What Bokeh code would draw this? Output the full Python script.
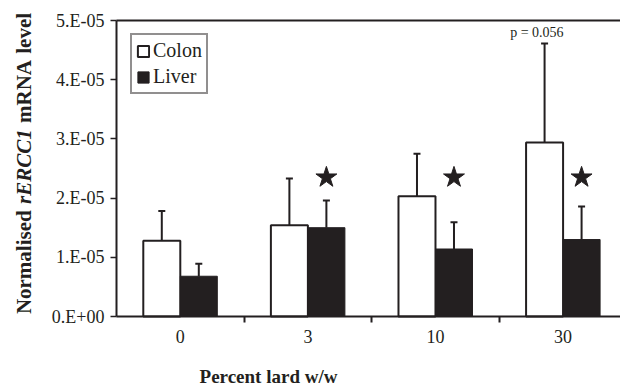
import numpy as np
from bokeh.plotting import figure
from bokeh.models import (ColumnDataSource, FixedTicker, Whisker, TeeHead, Range1d)
from bokeh.core.properties import value
from bokeh.embed import file_html
from bokeh.resources import INLINE

# ---- data ----
categories = ["0", "3", "10", "30"]
colon_mean = [1.28e-5, 1.54e-5, 2.03e-5, 2.94e-5]
colon_err = [0.50e-5, 0.79e-5, 0.72e-5, 1.67e-5]
liver_mean = [0.68e-5, 1.50e-5, 1.14e-5, 1.30e-5]
liver_err = [0.21e-5, 0.46e-5, 0.45e-5, 0.56e-5]
significant = [False, True, True, True]
y_ticks = [0, 1e-5, 2e-5, 3e-5, 4e-5, 5e-5]
y_tick_labels = ["0.E+00", "1.E-05", "2.E-05", "3.E-05", "4.E-05", "5.E-05"]
p_note = "p = 0.056"
x_title = "Percent lard w/w"
y_title_words = ["Normalised", "rERCC1", "mRNA", "level"]
y_title_styles = ["bold", "bold italic", "bold", "bold"]

# ---- style / geometry ----
INK = "#231f20"
FONT = "Liberation Serif"
BAR_W = 0.29
OFF = BAR_W / 2
STAR_LEVEL = 2.35e-5
W, H = 620, 388
FRAME_L, FRAME_T, FRAME_B = 116, 20, 316   # pixel box of the value axes
XLO, XHI = -0.5, 3.45
YLO, YHI = 0.0, 5e-5
KX = (W - FRAME_L) / (XHI - XLO)
KY = (FRAME_B - FRAME_T) / (YHI - YLO)
X0 = XLO - FRAME_L / KX
Y1 = YHI + FRAME_T / KY
Y0 = YLO - (H - FRAME_B) / KY
# approximate advance widths (em) of the title words in Times/Liberation Serif bold
WORD_EM = [4.944, 3.557, 2.999, 1.944]
GAP_EM = 0.30


def px_x(px):
    return X0 + px / KX


def px_y(py):
    return Y1 - py / KY


idx = np.arange(len(categories))

p = figure(width=W, height=H, frame_width=W, frame_height=H, min_border=0,
           output_backend="svg", toolbar_location=None,
           x_range=Range1d(X0, XHI), y_range=Range1d(Y0, Y1))
p.outline_line_color = None
p.xgrid.visible = False
p.ygrid.visible = False
p.background_fill_color = "white"
p.border_fill_color = "white"

colon_src = ColumnDataSource(dict(x=idx - OFF, top=colon_mean,
                                  hi=np.array(colon_mean) + np.array(colon_err)))
liver_src = ColumnDataSource(dict(x=idx + OFF, top=liver_mean,
                                  hi=np.array(liver_mean) + np.array(liver_err)))

p.vbar(x="x", top="top", bottom=0, width=BAR_W, source=colon_src, fill_color="white",
       line_color=INK, line_width=2, legend_label="Colon")
p.vbar(x="x", top="top", bottom=0, width=BAR_W, source=liver_src, fill_color=INK,
       line_color=INK, line_width=1, legend_label="Liver")

for src in (colon_src, liver_src):
    p.add_layout(Whisker(source=src, base="x", lower="top", upper="hi",
                         line_color=INK, line_width=2,
                         upper_head=TeeHead(size=7, line_color=INK, line_width=2),
                         lower_head=None))

# significance stars
star_x = [i + OFF for i, s in zip(idx, significant) if s]
p.scatter(x=star_x, y=[STAR_LEVEL] * len(star_x), marker="star", size=22,
          fill_color=INK, line_color=INK)

# p-value note above the last colon error bar
p.text(x=[idx[-1] - OFF - 0.06], y=[colon_mean[-1] + colon_err[-1]], text=[p_note],
       text_font=value(FONT), text_font_size="14px", text_color=INK,
       text_align="center", text_baseline="bottom", y_offset=-4)

# top border line of the value box
p.segment(x0=[XLO], y0=[YHI], x1=[XHI], y1=[YHI], line_color=INK, line_width=2)

# x axis (fixed at y = 0)
xa = p.xaxis[0]
xa.fixed_location = YLO
xa.bounds = (XLO, XHI)
xa.ticker = FixedTicker(ticks=list(idx), minor_ticks=[0.5, 1.5, 2.5])
xa.major_label_overrides = {int(i): c for i, c in zip(idx, categories)}
xa.major_tick_out = 0
xa.major_tick_in = 0
xa.minor_tick_out = 6
xa.minor_tick_in = 0
xa.minor_tick_line_width = 2
xa.minor_tick_line_color = INK
xa.axis_line_width = 2
xa.axis_line_color = INK
xa.major_label_text_font = FONT
xa.major_label_text_font_size = "18px"
xa.major_label_text_color = INK
xa.major_label_standoff = 7

# y axis (fixed at the left edge of the value box)
ya = p.yaxis[0]
ya.fixed_location = XLO
ya.bounds = (YLO, YHI)
ya.ticker = FixedTicker(ticks=y_ticks)
ya.major_label_overrides = {t: l for t, l in zip(y_ticks, y_tick_labels)}
ya.major_tick_out = 6
ya.major_tick_in = 0
ya.major_tick_line_width = 1.5
ya.major_tick_line_color = INK
ya.minor_tick_line_color = None
ya.axis_line_width = 2
ya.axis_line_color = INK
ya.major_label_text_font = FONT
ya.major_label_text_font_size = "18px"
ya.major_label_text_color = INK
ya.major_label_standoff = 6

# x title (left of centre, as in the original)
p.text(x=[px_x(268)], y=[px_y(386)], text=[x_title], text_font=value(FONT),
       text_font_style="bold", text_font_size="19px", text_color=INK,
       text_align="center", text_baseline="bottom")

# y title with mixed styles (rotated words)
FS = 21
total = (sum(WORD_EM) + GAP_EM * (len(WORD_EM) - 1)) * FS
start = 163 + total / 2
for word, style, w in zip(y_title_words, y_title_styles, WORD_EM):
    p.text(x=[px_x(23)], y=[px_y(start)], text=[word], angle=np.pi / 2,
           text_font=value(FONT), text_font_style=style, text_font_size=f"{FS}px",
           text_color=INK, text_align="left", text_baseline="middle")
    start -= (w + GAP_EM) * FS

# legend
lg = p.legend[0]
lg.location = (130, H - 94)
lg.border_line_color = INK
lg.border_line_width = 2
lg.background_fill_color = "white"
lg.background_fill_alpha = 1
lg.label_text_font = FONT
lg.label_text_font_size = "20px"
lg.label_text_color = INK
lg.glyph_width = 14
lg.glyph_height = 14
lg.label_height = 20
lg.label_standoff = 3
lg.spacing = 3
lg.padding = 4

open("out.html", "w").write(file_html(p, INLINE))
